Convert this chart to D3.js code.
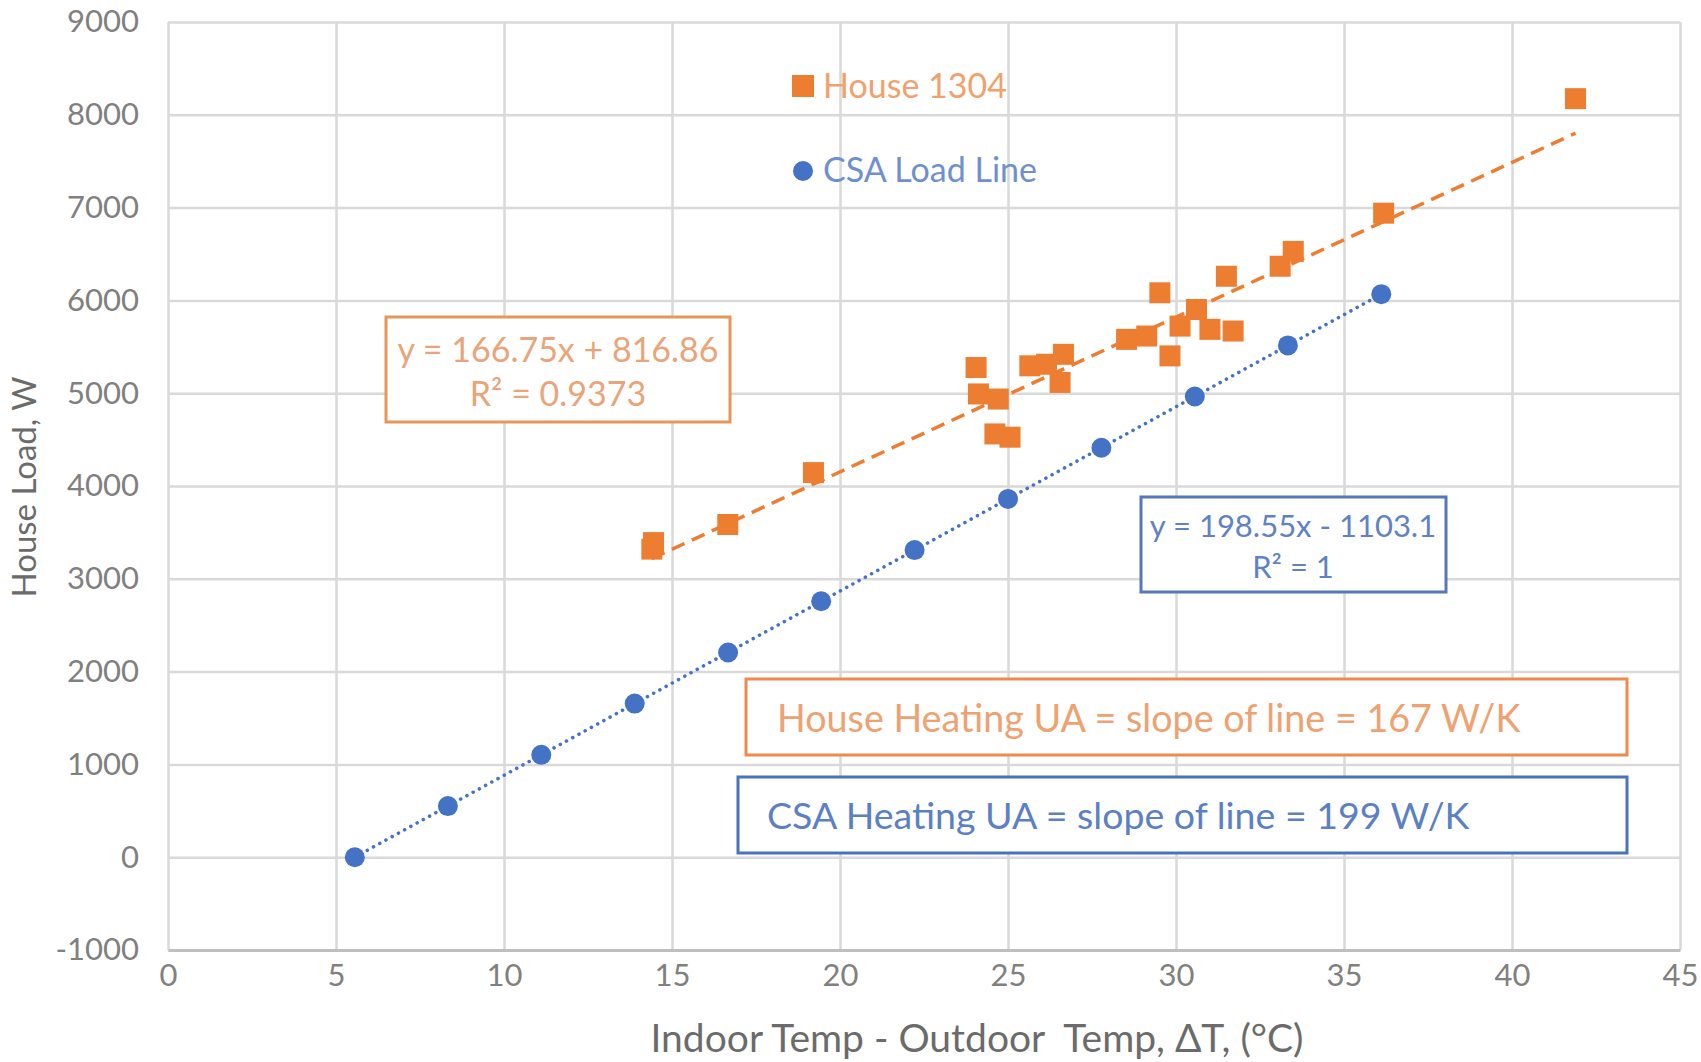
<!DOCTYPE html>
<html>
<head>
<meta charset="utf-8">
<script src="https://cdn.jsdelivr.net/npm/d3@7"></script>
<style>
  body { margin: 0; background: #fff; }
  text { font-family: Lato, "Open Sans", sans-serif; }
</style>
</head>
<body>
<div id="chart"></div>
<script>
var svgWidth = 1701;
var svgHeight = 1062;

var margin = { top: 22, right: 21, bottom: 112, left: 168 };
var width = svgWidth - margin.left - margin.right;
var height = svgHeight - margin.top - margin.bottom;

// CSA load line points (dT in C, load in W)
var csaDeltaT = [5.56, 8.33, 11.11, 13.89, 16.67, 19.44, 22.22, 25.0, 27.78, 30.56, 33.33, 36.11];
var csaLoad = [0, 551, 1103, 1655, 2206, 2758, 3309, 3861, 4412, 4964, 5515, 6067];

// House 1304 measured points
var houseDeltaT = [14.4, 14.45, 16.66, 19.21, 24.05, 24.12, 24.71, 24.61, 25.06, 25.65, 26.15, 26.65, 26.55,
  28.53, 29.13, 29.52, 29.82, 30.12, 30.61, 31.01, 31.5, 31.7, 33.1, 33.49, 36.18, 41.89];
var houseLoad = [3320, 3390, 3585, 4144, 5277, 4992, 4937, 4561, 4526, 5295, 5312, 5419, 5116,
  5580, 5616, 6082, 5402, 5723, 5902, 5688, 6260, 5670, 6368, 6528, 6940, 8174];

// trendline coefficients as printed on the chart
var houseFit = { slope: 166.75, intercept: 816.86, label: "y = 166.75x + 816.86", r2: "R² = 0.9373" };
var csaFit = { slope: 198.55, intercept: -1103.1, label: "y = 198.55x - 1103.1", r2: "R² = 1" };

var xTicks = [0, 5, 10, 15, 20, 25, 30, 35, 40, 45];
var yTicks = [-1000, 0, 1000, 2000, 3000, 4000, 5000, 6000, 7000, 8000, 9000];

var orange = "#ed7d31";
var blue = "#4472c4";

var houseData = houseDeltaT.map((d, i) => ({ x: d, y: houseLoad[i] }));
var csaData = csaDeltaT.map((d, i) => ({ x: d, y: csaLoad[i] }));

var svg = d3.select("#chart").append("svg")
  .attr("width", svgWidth)
  .attr("height", svgHeight);

var chartGroup = svg.append("g")
  .attr("transform", `translate(${margin.left}, ${margin.top})`);

var xScale = d3.scaleLinear().domain([0, 45]).range([0, width]);
var yScale = d3.scaleLinear().domain([-1000, 9000]).range([height, 0]);

// gridlines
chartGroup.append("g")
  .call(d3.axisBottom(xScale).tickValues(xTicks).tickSize(height).tickFormat(""))
  .call(g => g.select(".domain").remove())
  .selectAll("line").attr("stroke", "#d9d9d9").attr("stroke-width", 2.5);

chartGroup.append("g")
  .call(d3.axisLeft(yScale).tickValues(yTicks).tickSize(-width).tickFormat(""))
  .call(g => g.select(".domain").remove())
  .selectAll("line").attr("stroke", "#d9d9d9").attr("stroke-width", 2.5);

// axes (plain numbers, hyphen minus like the original)
var plain = d => String(d);

var xAxis = chartGroup.append("g")
  .attr("transform", `translate(0, ${height})`)
  .call(d3.axisBottom(xScale).tickValues(xTicks).tickSize(0).tickPadding(14).tickFormat(plain));

var yAxis = chartGroup.append("g")
  .call(d3.axisLeft(yScale).tickValues(yTicks).tickSize(0).tickPadding(29).tickFormat(plain));

[xAxis, yAxis].forEach(function(ax) {
  ax.select(".domain").attr("stroke", "#bfbfbf").attr("stroke-width", 3);
  ax.selectAll("text")
    .attr("font-size", 31)
    .attr("fill", "#808080");
});
yAxis.select(".domain").remove();
xAxis.selectAll("text").attr("dy", "0.71em");

// trendlines
function fitLine(fit, data) {
  var ext = d3.extent(data, d => d.x);
  return ext.map(x => ({ x: x, y: fit.slope * x + fit.intercept }));
}

var line = d3.line().x(d => xScale(d.x)).y(d => yScale(d.y));

chartGroup.append("path")
  .datum(fitLine(houseFit, houseData))
  .attr("d", line)
  .attr("fill", "none")
  .attr("stroke", orange)
  .attr("stroke-width", 3.5)
  .attr("stroke-dasharray", "14,8");

chartGroup.append("path")
  .datum(fitLine(csaFit, csaData))
  .attr("d", line)
  .attr("fill", "none")
  .attr("stroke", blue)
  .attr("stroke-width", 3.5)
  .attr("stroke-linecap", "round")
  .attr("stroke-dasharray", "0.1,7");

// markers
var sq = 21;
chartGroup.selectAll(".house")
  .data(houseData)
  .enter()
  .append("rect")
  .attr("x", d => xScale(d.x) - sq / 2)
  .attr("y", d => yScale(d.y) - sq / 2)
  .attr("width", sq)
  .attr("height", sq)
  .attr("fill", orange);

chartGroup.selectAll(".csa")
  .data(csaData)
  .enter()
  .append("circle")
  .attr("cx", d => xScale(d.x))
  .attr("cy", d => yScale(d.y))
  .attr("r", 10)
  .attr("fill", blue);

// legend
var legend = svg.append("g").attr("transform", "translate(803, 0)");
legend.append("rect")
  .attr("x", -11).attr("y", 75).attr("width", 22).attr("height", 22)
  .attr("fill", orange);
legend.append("text")
  .attr("x", 20).attr("y", 98)
  .attr("font-size", 34).attr("fill", "#f0a26e")
  .text("House 1304");
legend.append("circle")
  .attr("cx", 0).attr("cy", 171).attr("r", 10)
  .attr("fill", blue);
legend.append("text")
  .attr("x", 20).attr("y", 182)
  .attr("font-size", 34).attr("fill", "#6f8fd0")
  .text("CSA Load Line");

// text boxes, lineY = centre of each text line
function textBox(x, y, w, h, color, textColor, lines, lineY, size, anchor, tx) {
  var g = svg.append("g");
  g.append("rect")
    .attr("x", x).attr("y", y).attr("width", w).attr("height", h)
    .attr("fill", "#fff")
    .attr("stroke", color)
    .attr("stroke-width", 3);
  lines.forEach(function(t, i) {
    g.append("text")
      .attr("x", tx)
      .attr("y", lineY[i])
      .attr("dy", "0.35em")
      .attr("text-anchor", anchor)
      .attr("font-size", size)
      .attr("fill", textColor)
      .text(t);
  });
}

textBox(386, 317, 344, 105, "#e8955a", "#e9a479", [houseFit.label, houseFit.r2], [350, 394], 34, "middle", 558);
textBox(1141, 497, 305, 95, "#5577bb", "#5f82c4", [csaFit.label, csaFit.r2], [526, 567], 31, "middle", 1293);
textBox(746, 679, 881, 76, "#ee8a4e", "#eea271", ["House Heating UA = slope of line = 167 W/K"], [719], 37.7, "start", 777);
textBox(738, 777, 889, 76, "#4a72bd", "#5c80c4", ["CSA Heating UA = slope of line = 199 W/K"], [816], 37.5, "start", 767);

// axis titles
svg.append("text")
  .attr("x", 977)
  .attr("y", 1052)
  .attr("text-anchor", "middle")
  .attr("font-size", 39)
  .attr("fill", "#6b6b6b")
  .attr("xml:space", "preserve")
  .text("Indoor Temp - Outdoor  Temp, \u0394T, (\u00b0C)");

svg.append("text")
  .attr("transform", "translate(36, 487) rotate(-90)")
  .attr("text-anchor", "middle")
  .attr("font-size", 33)
  .attr("fill", "#6b6b6b")
  .text("House Load, W");
</script>
</body>
</html>
